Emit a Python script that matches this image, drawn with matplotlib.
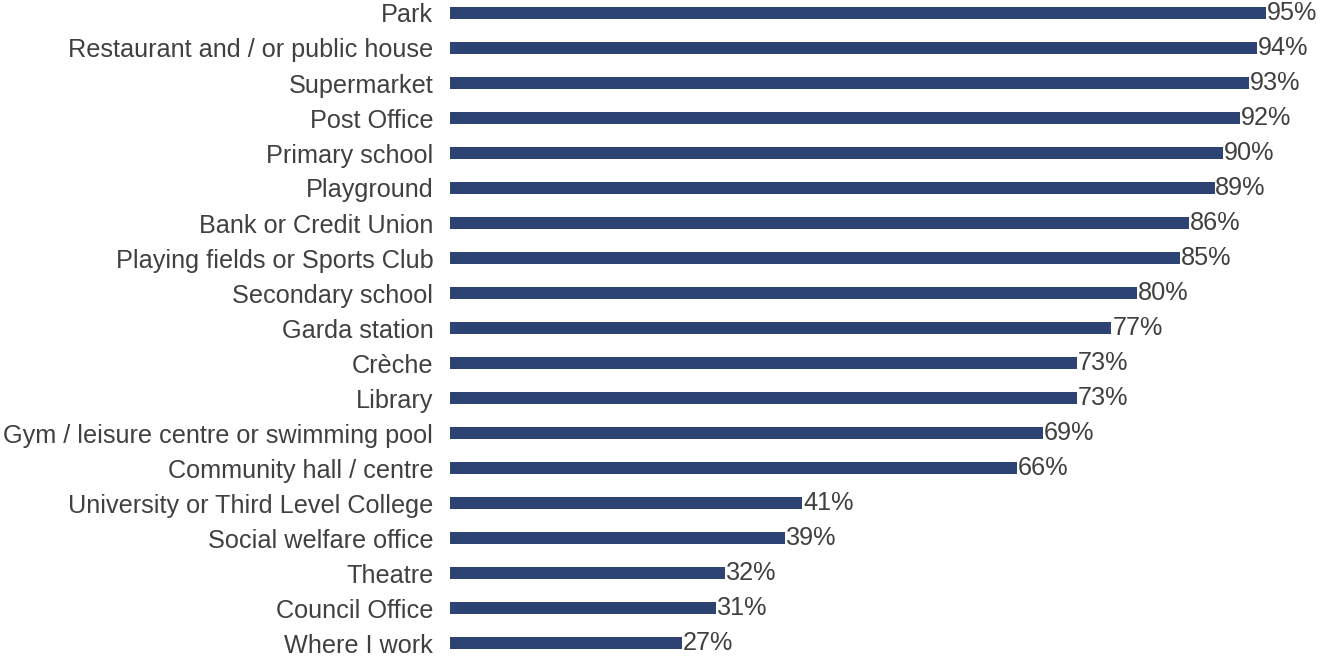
import matplotlib
matplotlib.use("Agg")
import matplotlib.pyplot as plt

categories = ["Park", "Restaurant and / or public house", "Supermarket", "Post Office",
              "Primary school", "Playground", "Bank or Credit Union",
              "Playing fields or Sports Club", "Secondary school", "Garda station",
              "Crèche", "Library", "Gym / leisure centre or swimming pool",
              "Community hall / centre", "University or Third Level College",
              "Social welfare office", "Theatre", "Council Office", "Where I work"]
values = [95, 94, 93, 92, 90, 89, 86, 85, 80, 77, 73, 73, 69, 66, 41, 39, 32, 31, 27]

plt.rcParams['font.family'] = ['Liberation Sans', 'DejaVu Sans']

fig = plt.figure(figsize=(13.21, 6.56), dpi=100)
ax = fig.add_axes([450/1321, 0, 859/1321, 1])
ypos = list(range(len(categories)))
ax.barh(ypos, values, height=0.33, color='#2D4373')
ax.set_xlim(0, 100)
ax.set_ylim(18 + 13/35, -13/35)
ax.set_yticks(ypos)
ax.set_yticklabels(categories, fontsize=18.2, color='#404040')
ax.tick_params(axis='y', length=0, pad=12)
ax.set_xticks([])
for s in ax.spines.values():
    s.set_visible(False)
for y, v in zip(ypos, values):
    ax.text(v + 0.1, y, f"{v}%", va='center', ha='left', fontsize=18.2, color='#404040')

fig.savefig("out.png", dpi=100)
